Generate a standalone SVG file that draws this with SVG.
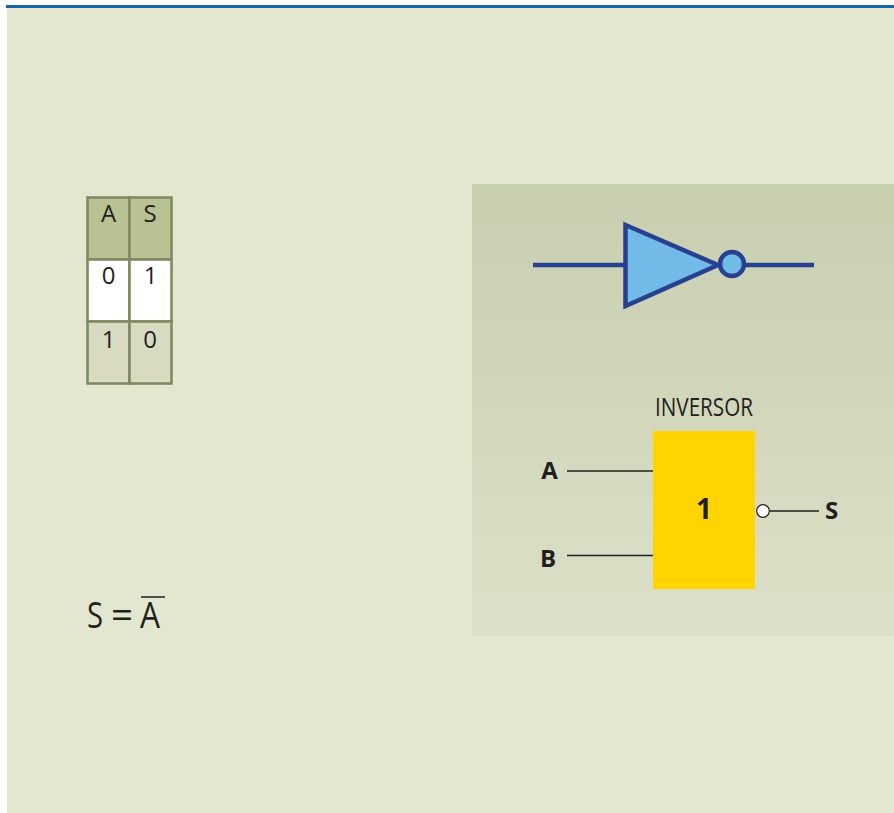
<svg xmlns="http://www.w3.org/2000/svg" width="894" height="813" viewBox="0 0 894 813">
<defs>
<linearGradient id="panelGrad" x1="0" y1="0" x2="0" y2="1"><stop offset="0" stop-color="#c8ceb0"/><stop offset="1" stop-color="#dce0c8"/></linearGradient>
</defs>
<style>
text{font-family:"Open Sans","Noto Sans",sans-serif;fill:#231f20}
.tt{font-size:24px;text-anchor:middle}
.b{font-size:24px;font-weight:700;text-anchor:middle}
.f{font-size:36px}
.cell{stroke:#7f8a62;stroke-width:2.6}
.blue{stroke:#27408f;stroke-width:4.500;fill:none}
.thin{stroke:#231f20;stroke-width:1.400;fill:none}
</style>
<rect width="894" height="813" fill="#fff"/>
<rect x="7" y="6" width="887" height="807" fill="#e3e7d0"/>
<rect x="6" y="5" width="888" height="3" fill="#1a63a8"/>
<rect x="472" y="184" width="422" height="452" fill="url(#panelGrad)"/>

<g id="truth-table">
<rect class="cell" x="87.500" y="197.500" width="42" height="62" fill="#b9c292"/>
<rect class="cell" x="129.500" y="197.500" width="42" height="62" fill="#b9c292"/>
<rect class="cell" x="87.500" y="259.500" width="42" height="62" fill="#fff"/>
<rect class="cell" x="129.500" y="259.500" width="42" height="62" fill="#fff"/>
<rect class="cell" x="87.500" y="321.500" width="42" height="62" fill="#d8dbc2"/>
<rect class="cell" x="129.500" y="321.500" width="42" height="62" fill="#d8dbc2"/>
<text class="tt" x="108.500" y="222">A</text>
<text class="tt" x="150" y="222">S</text>
<text class="tt" x="108.500" y="284">0</text>
<text class="tt" x="150.500" y="284">1</text>
<text class="tt" x="108.500" y="348">1</text>
<text class="tt" x="150" y="348">0</text>
</g>

<g id="formula">
<text class="f" x="87" y="628" textLength="16" lengthAdjust="spacingAndGlyphs">S</text>
<text class="f" x="111" y="628" textLength="22" lengthAdjust="spacingAndGlyphs">=</text>
<text class="f" x="140" y="628" textLength="20" lengthAdjust="spacingAndGlyphs">A</text>
<line x1="141" y1="597" x2="165" y2="597" stroke="#231f20" stroke-width="1.500"/>
</g>

<g id="connectors">
<line class="blue" x1="533" y1="265" x2="626" y2="265"/>
<line class="blue" x1="745" y1="265" x2="814" y2="265"/>
<line class="thin" x1="567" y1="471" x2="653" y2="471"/>
<line class="thin" x1="567" y1="555.500" x2="653" y2="555.500"/>
<line class="thin" x1="770" y1="511" x2="819" y2="511"/>
</g>

<g id="inverter-symbol">
<polygon class="blue" points="625.500,225 718,265 625.500,306" style="fill:#72bbe9"/>
<circle class="blue" cx="732" cy="264" r="12" style="fill:#72bbe9"/>
</g>

<g id="inverter-block">
<text x="655" y="416" style="font-size:25px" textLength="98" lengthAdjust="spacingAndGlyphs">INVERSOR</text>
<rect x="653" y="431" width="102" height="158" fill="#ffd400"/>
<text class="b" x="704" y="519" style="font-size:28px">1</text>
<circle cx="763" cy="511" r="6.300" fill="#fff" stroke="#231f20" stroke-width="1.200"/>
</g>

<g id="label-a"><text class="b" x="549.500" y="479">A</text></g>
<g id="label-b"><text class="b" x="548" y="567">B</text></g>
<g id="label-s"><text class="b" x="831.500" y="518.500">S</text></g>
</svg>
